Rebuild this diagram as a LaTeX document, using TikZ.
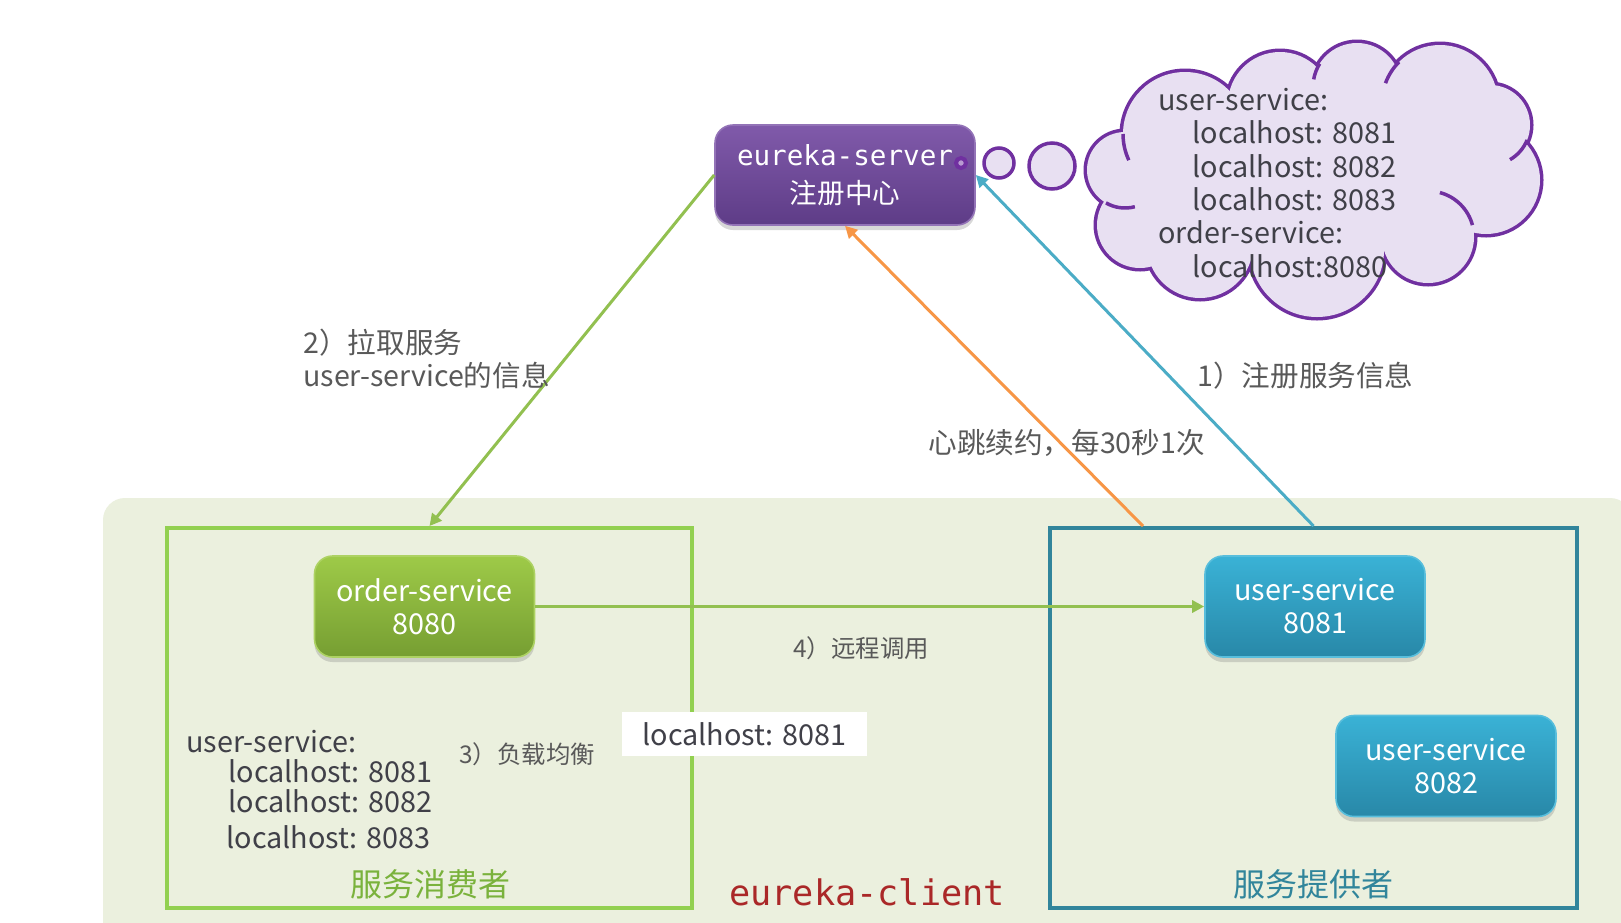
\documentclass[tikz,border=0pt]{standalone}
\usepackage{fontspec}
\setmainfont{Noto Sans CJK SC}
\setmonofont{DejaVu Sans Mono}
\usetikzlibrary{arrows.meta,shadows}
\definecolor{bgc}{RGB}{235,240,222}
\definecolor{gboxc}{RGB}{146,208,80}
\definecolor{bboxc}{RGB}{49,133,155}
\definecolor{garrow}{RGB}{146,192,80}
\definecolor{barrow}{RGB}{75,172,198}
\definecolor{oarrow}{RGB}{247,150,70}
\definecolor{purp}{RGB}{112,48,160}
\definecolor{lav}{RGB}{232,224,242}
\definecolor{txt}{RGB}{64,64,72}
\definecolor{lbltxt}{RGB}{89,89,89}
\definecolor{ptop}{RGB}{128,90,170}
\definecolor{pbot}{RGB}{94,60,135}
\definecolor{gtop}{RGB}{158,202,72}
\definecolor{gbot}{RGB}{118,158,50}
\definecolor{btop}{RGB}{58,178,214}
\definecolor{bbot}{RGB}{40,136,168}
\definecolor{cred}{RGB}{170,40,40}
\definecolor{gtxt}{RGB}{122,178,60}
\begin{document}
\begin{tikzpicture}[x=0.5pt,y=-0.5pt,
  lbl/.style={text=lbltxt, font=\fontsize{14.3}{17}\selectfont, inner sep=0pt, anchor=base west},
  smalllbl/.style={text=lbltxt, font=\fontsize{12.2}{15}\selectfont, inner sep=0pt, anchor=base west},
  listtxt/.style={text=txt, font=\fontsize{14.4}{16}\selectfont, inner sep=0pt, anchor=base west},
  groupbox/.style={draw, line width=2pt, minimum width=262.5pt, minimum height=190pt, inner sep=0pt},
  svcnode/.style={rounded corners=9pt, minimum width=110pt, minimum height=50.5pt, align=center,
     text=white, font=\fontsize{14.4}{16.5}\selectfont, inner sep=0pt, line width=0.8pt,
     drop shadow={opacity=0.3, shadow xshift=0pt, shadow yshift=-2.5pt}},
  gnode/.style={svcnode, top color=gtop, bottom color=gbot, draw=gtop!85!white},
  bnode/.style={svcnode, top color=btop, bottom color=bbot, draw=btop!85!white},
  pnode/.style={svcnode, top color=ptop, bottom color=pbot, draw=ptop!85!white,
     minimum width=130pt, minimum height=50pt, font=\fontsize{13.8}{18.7}\selectfont},
  arr/.style={line width=1.5pt, -{Triangle[length=6pt,width=6pt]}},
  cloudline/.style={draw=purp, line width=1.75pt}
]
\useasboundingbox (0,0) rectangle (1621,922);
\fill[white] (0,0) rectangle (1621,922);
% client background
\fill[bgc, rounded corners=11pt] (103,498) rectangle (1632,960);

% group boxes
\node[groupbox, draw=gboxc] (consumer) at (429.5,718) {};
\node[groupbox, draw=bboxc, minimum width=263.5pt] (provider) at (1313.5,718) {};

% cloud
\foreach \cx/\cy/\r in {1125/170/38,1185/134/62,1280/104/52,1357/87/44,1440/103/58,1490/125/40,1486/180/54,1428/237/46,1317/250/67,1200/245/53,1140/225/43}
  \draw[purp, line width=3.5pt] (\cx,\cy) circle (\r);
\foreach \cx/\cy/\r in {1125/170/38,1185/134/62,1280/104/52,1357/87/44,1440/103/58,1490/125/40,1486/180/54,1428/237/46,1317/250/67,1200/245/53,1140/225/43}
  \fill[lav] (\cx,\cy) circle (\r);
\fill[lav] (1310,175) ellipse [x radius=160, y radius=75];
\foreach \cx/\cy/\r/\a/\b in {1185/134/62/155/180,1125/170/38/75/120,1428/237/46/285/345,1490/125/40/22/60,1440/103/58/200/225,1357/87/44/190/212}
  \draw[cloudline] ([shift={(\a:\r)}]\cx,\cy) arc[start angle=\a, end angle=\b, radius=\r];

\foreach \t/\x/\y [count=\i] in {user-service:/1158/110, localhost: 8081/1192/143, localhost: 8082/1192/177, localhost: 8083/1192/210, order-service:/1158/243, localhost:8080/1192/277}
  \node[listtxt] (cl\i) at (\x,\y) {\t};

% thought bubbles
\draw[cloudline, fill=lav] (999,163) circle (15);
\draw[cloudline, fill=lav] (1052,166) circle (23);

% nodes
\node[pnode] (eureka) at (845,175) {{\ttfamily eureka-server}\\注册中心};
\draw[purp, line width=2pt, fill=lav!60!purp] (961,163) circle (5);
\node[gnode] (order) at (424.5,606.5) {order-service\\8080};
\node[bnode] (us1) at (1315,606.5) {user-service\\8081};
\node[bnode] (us2) at (1446,766) {user-service\\8082};

% connectors
\draw[arr, garrow] (eureka.west) -- (consumer.north);
\draw[arr, barrow] (provider.north) -- (eureka.east);
\draw[arr, oarrow] ([xshift=47.5pt]provider.north west) -- (eureka.south);
\draw[arr, garrow] (order.east) -- (us1.west);

% labels
\node[lbl] (l2a) at (303,353) {2）拉取服务};
\node[lbl] (l2b) at (303,386) {user-service的信息};
\node[lbl] (l1) at (1197,386) {1）注册服务信息};
\node[lbl] (lhb) at (928,453) {心跳续约，每30秒1次};
\node[smalllbl] (l4) at (793,657) {4）远程调用};
\node[smalllbl] (l3) at (459,763) {3）负载均衡};

\node[fill=white, minimum width=122.5pt, minimum height=22pt, inner sep=0pt, text=txt,
  font=\fontsize{14.4}{16}\selectfont] (pick) at (744.5,734) {localhost: 8081};

\node[listtxt] (ll1) at (186,752) {user-service:};
\node[listtxt] (ll2) at (228,782) {localhost: 8081};
\node[listtxt] (ll3) at (228,812) {localhost: 8082};
\node[listtxt] (ll4) at (226,848) {localhost: 8083};

\node[text=gtxt, font=\fontsize{16}{16}\selectfont, inner sep=0pt] (cname) at (430,884) {服务消费者};
\node[text=bboxc, font=\fontsize{16}{16}\selectfont, inner sep=0pt] (pname) at (1313,884) {服务提供者};
\node[text=cred, font=\ttfamily\fontsize{17.6}{18}\selectfont, inner sep=0pt, anchor=base west] (client) at (729,905) {eureka-client};
\end{tikzpicture}
\end{document}
